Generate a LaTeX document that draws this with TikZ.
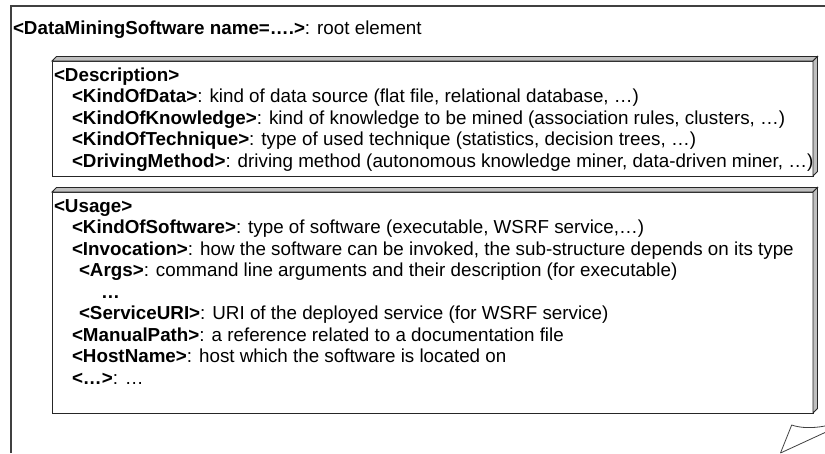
\documentclass[tikz,border=0pt]{standalone}
\usepackage{fontspec}
\setmainfont{Liberation Sans}
\begin{document}
\begin{tikzpicture}[x=1pt,y=-1pt,
  txt/.style={anchor=base west,inner sep=0pt,outer sep=0pt,font=\fontsize{18.8}{21.5}\selectfont},
  frontbox/.style={draw=black!85,line width=0.9pt,fill=white,anchor=north west,inner sep=0pt,outer sep=0pt},
  sideface/.style={draw=black!85,line width=0.9pt,fill=black!25,line join=miter},
  frameline/.style={draw=black!75,line width=1.1pt},
]
\useasboundingbox (0,0) rectangle (825,453);
\fill[white] (0,0) rectangle (825,453);
% outer page frame
\coordinate (fbl) at (11,453);
\coordinate (ftl) at (11,6);
\coordinate (ftr) at (825,6);
\draw[frameline] (fbl) -- (ftl) -- (ftr);
% page curl
\coordinate (c1) at (791.7,425);
\coordinate (c2) at (780.5,453);
\coordinate (c3) at (825,432.5);
\coordinate (c4) at (825,426);
\draw[black!75,line width=0.8pt] (c4) .. controls (812,428.5) and (800,428) .. (c1) -- (c2);
\draw[black!75,line width=0.8pt] (c2) -- (c3);

\node[txt] (title) at (13,34) {\textbf{<DataMiningSoftware name=….>}: root element};

% Description box
\node[frontbox,minimum width=761pt,minimum height=115pt] (desc) at (52,61) {};
\draw[sideface] (desc.north west) -- ([shift={(4.5,-4.5)}]desc.north west) -- ([shift={(4.5,-4.5)}]desc.north east) -- (desc.north east) -- cycle;
\draw[sideface] (desc.north east) -- ([shift={(4.5,-4.5)}]desc.north east) -- ([shift={(4.5,-4.5)}]desc.south east) -- (desc.south east) -- cycle;

\node[txt] (d0) at (54,81) {\textbf{<Description>}};
\node[txt] (d1) at (72,102.5) {\textbf{<KindOfData>}: kind of data source (flat file, relational database, …)};
\node[txt] (d2) at (72,124) {\textbf{<KindOfKnowledge>}: kind of knowledge to be mined (association rules, clusters, …)};
\node[txt] (d3) at (72,145.5) {\textbf{<KindOfTechnique>}: type of used technique (statistics, decision trees, …)};
\node[txt] (d4) at (72,167) {\textbf{<DrivingMethod>}: driving method (autonomous knowledge miner, data-driven miner, …)};

% Usage box
\node[frontbox,minimum width=761pt,minimum height=221pt] (usage) at (52,192) {};
\draw[sideface] (usage.north west) -- ([shift={(4.5,-4.5)}]usage.north west) -- ([shift={(4.5,-4.5)}]usage.north east) -- (usage.north east) -- cycle;
\draw[sideface] (usage.north east) -- ([shift={(4.5,-4.5)}]usage.north east) -- ([shift={(4.5,-4.5)}]usage.south east) -- (usage.south east) -- cycle;

\node[txt] (u0) at (54,212) {\textbf{<Usage>}};
\node[txt] (u1) at (72,233.5) {\textbf{<KindOfSoftware>}: type of software (executable, WSRF service,…)};
\node[txt] (u2) at (72,255) {\textbf{<Invocation>}: how the software can be invoked, the sub-structure depends on its type};
\node[txt] (u3) at (79,276.5) {\textbf{<Args>}: command line arguments and their description (for executable)};
\node[txt] (u4) at (101,298) {\textbf{…}};
\node[txt] (u5) at (79,319.5) {\textbf{<ServiceURI>}: URI of the deployed service (for WSRF service)};
\node[txt] (u6) at (72,341) {\textbf{<ManualPath>}: a reference related to a documentation file};
\node[txt] (u7) at (72,362.5) {\textbf{<HostName>}: host which the software is located on};
\node[txt] (u8) at (72,384) {\textbf{<…>}: …};
\end{tikzpicture}
\end{document}
